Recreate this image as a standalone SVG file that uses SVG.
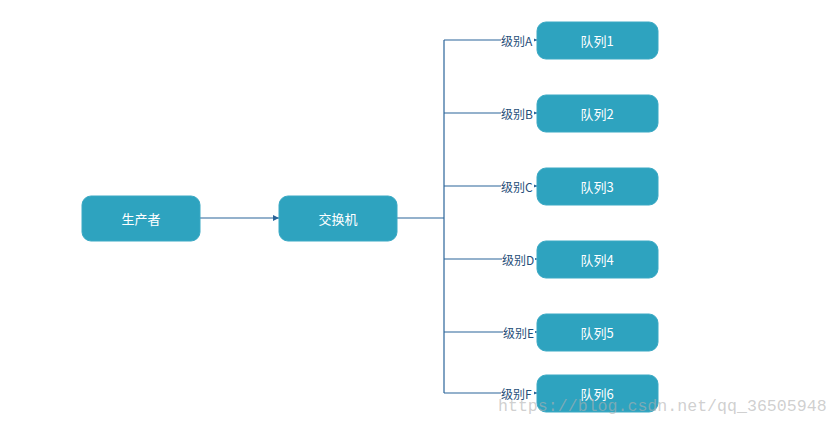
<svg xmlns="http://www.w3.org/2000/svg" width="840" height="426" viewBox="0 0 840 426">
<style>
.node rect{fill:#2ea3bf;stroke:#3aa9c4;stroke-width:1}
.node text{fill:#ffffff;font-family:"Noto Sans CJK SC","Liberation Sans",sans-serif;font-size:13px;text-anchor:middle;dominant-baseline:central}
.edge{stroke:#2a6499;stroke-width:1.2;fill:none}
.lbl{fill:#1f4e79;font-family:"Noto Sans CJK SC","Liberation Sans",sans-serif;font-size:12px;dominant-baseline:central}
.wm{fill:#b0b0b0;fill-opacity:0.6;font-family:"Liberation Mono",monospace;font-size:16.6px}
</style>
<defs>
<marker id="ah" viewBox="0 0 10 10" refX="10" refY="5" markerWidth="6" markerHeight="6" orient="auto" markerUnits="userSpaceOnUse">
<path d="M0,0 L10,5 L0,10 z" fill="#2a6499"/>
</marker>
<marker id="ahs" viewBox="0 0 10 10" refX="10" refY="5" markerWidth="4" markerHeight="4" orient="auto" markerUnits="userSpaceOnUse">
<path d="M0,0 L10,5 L0,10 z" fill="#2a6499"/>
</marker>
</defs>
<rect width="840" height="426" fill="#ffffff"/>
<g id="connectors">
<path class="edge" d="M200,218 H279" marker-end="url(#ah)"/>
<path class="edge" d="M397,218 H444"/>
<path class="edge" d="M444,40 V393"/>
<path class="edge" d="M444,40 H537" marker-end="url(#ahs)"/>
<path class="edge" d="M444,113 H537" marker-end="url(#ahs)"/>
<path class="edge" d="M444,186 H537" marker-end="url(#ahs)"/>
<path class="edge" d="M444,259 H537" marker-end="url(#ahs)"/>
<path class="edge" d="M444,332 H537" marker-end="url(#ahs)"/>
<path class="edge" d="M444,393 H537" marker-end="url(#ahs)"/>
<g id="edge-labels">
<rect x="501" y="32" width="33" height="16" fill="#ffffff"/>
<text class="lbl" x="501" y="40">级别A</text>
<rect x="501" y="105" width="33" height="16" fill="#ffffff"/>
<text class="lbl" x="501" y="113">级别B</text>
<rect x="501" y="178" width="33" height="16" fill="#ffffff"/>
<text class="lbl" x="501" y="186">级别C</text>
<rect x="502" y="251" width="33" height="16" fill="#ffffff"/>
<text class="lbl" x="502" y="259">级别D</text>
<rect x="503" y="324" width="32" height="16" fill="#ffffff"/>
<text class="lbl" x="503" y="332">级别E</text>
<rect x="501" y="385" width="33" height="16" fill="#ffffff"/>
<text class="lbl" x="501" y="393">级别F</text>
</g>
</g>
<g id="producer" class="node"><rect x="82" y="196" width="118" height="45" rx="9"/><text x="141" y="218">生产者</text></g>
<g id="exchange" class="node"><rect x="279" y="196" width="118" height="45" rx="9"/><text x="338" y="218">交换机</text></g>
<g id="queue1" class="node"><rect x="537" y="22" width="121" height="37" rx="9"/><text x="597" y="40">队列1</text></g>
<g id="queue2" class="node"><rect x="537" y="95" width="121" height="37" rx="9"/><text x="597" y="113">队列2</text></g>
<g id="queue3" class="node"><rect x="537" y="168" width="121" height="37" rx="9"/><text x="597" y="186">队列3</text></g>
<g id="queue4" class="node"><rect x="537" y="241" width="121" height="37" rx="9"/><text x="597" y="259">队列4</text></g>
<g id="queue5" class="node"><rect x="537" y="314" width="121" height="37" rx="9"/><text x="597" y="332">队列5</text></g>
<g id="queue6" class="node"><rect x="537" y="375" width="121" height="37" rx="9"/><text x="597" y="393">队列6</text></g>
<text class="wm" x="498" y="411">https://blog.csdn.net/qq_36505948</text>
</svg>
